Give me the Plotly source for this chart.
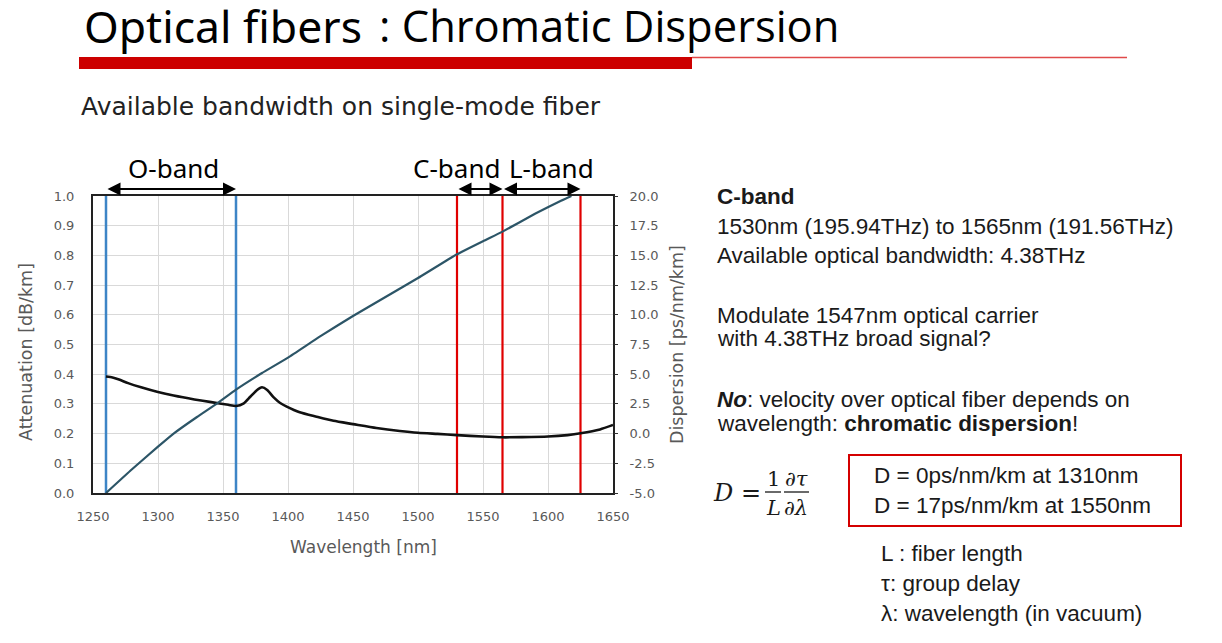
import plotly.graph_objects as go

# ---------------- data ----------------
att_wavelength = [1260, 1265, 1270, 1277, 1287, 1300, 1312, 1328, 1341, 1354, 1360, 1366,
                  1371, 1376, 1380, 1384, 1389, 1394, 1399, 1409, 1422, 1435, 1450, 1468,
                  1486, 1500, 1515, 1530, 1550, 1565, 1580, 1600, 1615, 1625, 1640, 1650]
attenuation = [0.392, 0.389, 0.382, 0.370, 0.356, 0.340, 0.328, 0.315, 0.306, 0.297, 0.293, 0.302,
               0.324, 0.346, 0.356, 0.347, 0.322, 0.303, 0.291, 0.272, 0.257, 0.243, 0.232, 0.219,
               0.209, 0.203, 0.199, 0.195, 0.190, 0.1875, 0.188, 0.190, 0.195, 0.201, 0.214, 0.229]

disp_wavelength = [1260, 1280, 1300, 1312, 1330, 1345, 1360, 1380, 1400, 1425, 1450, 1475,
                   1500, 1530, 1550, 1565, 1590, 1610, 1618]
dispersion = [-5.0, -3.0, -1.1, 0.0, 1.4, 2.5, 3.7, 5.1, 6.4, 8.2, 9.9, 11.5,
              13.1, 15.1, 16.2, 17.0, 18.5, 19.6, 20.0]

o_band = [1260, 1360]
c_band = [1530, 1565]
l_band = [1565, 1625]

x_ticks = [1250, 1300, 1350, 1400, 1450, 1500, 1550, 1600, 1650]
att_ticks = [0.0, 0.1, 0.2, 0.3, 0.4, 0.5, 0.6, 0.7, 0.8, 0.9, 1.0]
disp_ticks = [-5.0, -2.5, 0.0, 2.5, 5.0, 7.5, 10.0, 12.5, 15.0, 17.5, 20.0]
disp_tick_labels = ["-5.0", "-2.5", "0.0", "2.5", "5.0", "7.5", "10.0", "12.5", "15.0", "17.5", "20.0"]

# ---------------- layout helpers (screen pixel -> paper) ----------------
OFF = 8                      # page body margin
W, H = 1206, 627             # figure size
PL, PR, PT, PB = 93, 613, 196, 493   # plot area in screen pixels


def X(px):
    return (px - PL) / (PR - PL)


def Y(py):
    return (PB - py) / (PB - PT)


GRAY = "#595959"
SANS = "Liberation Sans"
TXT = "#1a1a1a"

fig = go.Figure()

# band boundary lines
for xv in o_band:
    fig.add_trace(go.Scatter(x=[xv, xv], y=[0, 1], mode="lines",
                             line=dict(color="#3d85c6", width=2.5),
                             showlegend=False, hoverinfo="skip"))
for xv in sorted(set(c_band + l_band)):
    fig.add_trace(go.Scatter(x=[xv, xv], y=[0, 1], mode="lines",
                             line=dict(color="#e00000", width=2.2),
                             showlegend=False, hoverinfo="skip"))

fig.add_trace(go.Scatter(x=att_wavelength, y=attenuation, mode="lines",
                         line=dict(color="#111111", width=2.6, shape="spline", smoothing=0.6),
                         showlegend=False))
fig.add_trace(go.Scatter(x=disp_wavelength, y=dispersion, mode="lines", yaxis="y2",
                         line=dict(color="#2c5567", width=2.2, shape="spline", smoothing=0.4),
                         showlegend=False))

fig.update_layout(
    width=W, height=H, autosize=False,
    margin=dict(l=PL - OFF, r=W - (PR - OFF), t=PT - OFF, b=H - (PB - OFF), pad=0),
    paper_bgcolor="white", plot_bgcolor="white",
    xaxis=dict(range=[1250, 1650], tickvals=x_ticks, showgrid=True, gridcolor="#d9d9d9",
               gridwidth=1, zeroline=False, showline=True, linecolor="#222222", linewidth=2,
               mirror=True, ticks="", tickfont=dict(family="DejaVu Sans", size=13, color=GRAY),
               ticklabelstandoff=10),
    yaxis=dict(range=[0, 1], tickvals=att_ticks, tickformat=".1f", showgrid=True,
               gridcolor="#d9d9d9", gridwidth=1, zeroline=False, showline=True,
               linecolor="#222222", linewidth=2, mirror=True, ticks="",
               tickfont=dict(family="DejaVu Sans", size=13, color=GRAY), ticklabelstandoff=14),
    yaxis2=dict(range=[-5, 20], tickvals=disp_ticks, ticktext=disp_tick_labels, overlaying="y",
                side="right", showgrid=False, zeroline=False, showline=False,
                ticks="outside", ticklen=4, tickcolor="#333333",
                tickfont=dict(family="DejaVu Sans", size=13, color=GRAY), ticklabelstandoff=9),
)

ann = []
shapes = []


def label(text, px, py, size, family=SANS, color=TXT, xanchor="left", angle=0):
    ann.append(dict(text=text, x=X(px), y=Y(py), xref="paper", yref="paper",
                    xanchor=xanchor, yanchor="middle", textangle=angle, showarrow=False,
                    font=dict(family=family, size=size, color=color)))


# axis titles
label("Attenuation [dB/km]", 26, 352, 17.5, "DejaVu Sans", GRAY, "center", -90)
label("Dispersion [ps/nm/km]", 677, 345, 17.5, "DejaVu Sans", GRAY, "center", -90)
label("Wavelength [nm]", 363, 547, 17, "DejaVu Sans", GRAY, "center")

# band arrows (double-headed)
for band in (o_band, c_band, l_band):
    ann.append(dict(text="", x=band[1], y=Y(189), ax=band[0], ay=0,
                    xref="x", yref="paper", axref="x", ayref="pixel", showarrow=True,
                    arrowhead=2, startarrowhead=2, arrowside="end+start",
                    arrowsize=1.3, startarrowsize=1.3, arrowwidth=2, arrowcolor="black",
                    standoff=0, startstandoff=0))
label("O-band", 173, 168, 26, "Noto Sans", "black", "center")
label("C-band", 456, 168, 26, "Noto Sans", "black", "center")
label("L-band", 551, 168, 26, "Noto Sans", "black", "center")

# slide title
label("Optical fibers", 82, 26, 44.5, "Noto Sans", "black")
label(": Chromatic Dispersion", 377, 26, 43.5, "Open Sans", "black")
shapes.append(dict(type="rect", xref="paper", yref="paper", x0=X(79), x1=X(692), y0=Y(57), y1=Y(69),
                   fillcolor="#cc0000", line=dict(width=0)))
shapes.append(dict(type="line", xref="paper", yref="paper", x0=X(692), x1=X(1127), y0=Y(57.5), y1=Y(57.5),
                   line=dict(color="#e04a4a", width=1.6)))
label("Available bandwidth on single-mode fiber", 79, 107, 25, "DejaVu Sans", "#222222")

# right-hand text
right_lines = [
    ("<b>C-band</b>", 196),
    ("1530nm (195.94THz) to 1565nm (191.56THz)", 226),
    ("Available optical bandwidth: 4.38THz", 255),
    ("Modulate 1547nm optical carrier", 315),
    ("with 4.38THz broad signal?", 338),
    ("<b><i>No</i></b>: velocity over optical fiber depends on", 399),
    ("wavelength: <b>chromatic dispersion</b>!", 423),
]
for txt, py in right_lines:
    label(txt, 715, py, 22.5)

# formula
SERIF = "DejaVu Serif"
label("<i>D</i> =", 711, 493, 24, SERIF)
label("1", 773, 479, 21, SERIF, TXT, "center")
label("<i>L</i>", 773, 508, 21, SERIF, TXT, "center")
label("∂<i>τ</i>", 796, 479, 21, SERIF, TXT, "center")
label("∂<i>λ</i>", 796, 508, 21, SERIF, TXT, "center")
shapes.append(dict(type="line", xref="paper", yref="paper", x0=X(765), x1=X(781), y0=Y(492), y1=Y(492),
                   line=dict(color=TXT, width=1.3)))
shapes.append(dict(type="line", xref="paper", yref="paper", x0=X(784), x1=X(809), y0=Y(492), y1=Y(492),
                   line=dict(color=TXT, width=1.3)))

# red box
shapes.append(dict(type="rect", xref="paper", yref="paper", x0=X(849), x1=X(1181), y0=Y(455), y1=Y(526),
                   line=dict(color="#d40000", width=2), fillcolor="rgba(0,0,0,0)"))
label("D = 0ps/nm/km at 1310nm", 872, 475, 22.5)
label("D = 17ps/nm/km at 1550nm", 872, 505, 22.5)

legend_lines = [("L : fiber length", 553), ("τ: group delay", 583), ("λ: wavelength (in vacuum)", 613)]
for txt, py in legend_lines:
    label(txt, 879, py, 22.5)

fig.update_layout(annotations=ann, shapes=shapes)
fig.write_html("out.html")
